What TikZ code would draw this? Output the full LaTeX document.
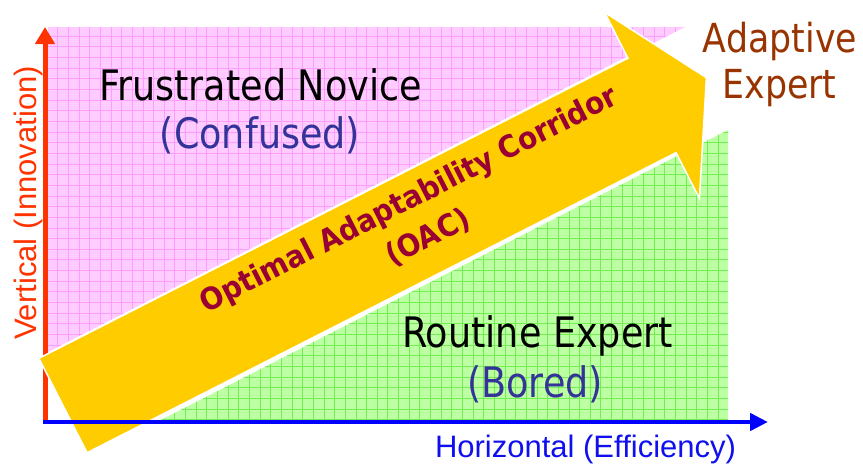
\documentclass[tikz,border=0pt]{standalone}
\usepackage{fontspec}
\newfontfamily\tahoma[FakeStretch=0.87]{DejaVu Sans}
\newfontfamily\tahomabold[FakeStretch=0.91]{DejaVu Sans Bold}
\newfontfamily\arialf{Liberation Sans}
\usetikzlibrary{arrows.meta}
\definecolor{pinkfill}{HTML}{FFCCFF}
\definecolor{pinkgrid}{HTML}{FF9CFF}
\definecolor{greenfill}{HTML}{BDFFA3}
\definecolor{greengrid}{HTML}{72EE52}
\definecolor{arrowyellow}{HTML}{FFCC00}
\definecolor{axisred}{HTML}{FF3300}
\definecolor{axisblue}{HTML}{0000FF}
\definecolor{labelblue}{HTML}{1010EE}
\definecolor{parenblue}{HTML}{333399}
\definecolor{brownish}{HTML}{993300}
\definecolor{oaccol}{HTML}{990033}
\tikzset{
  pgridline/.style={draw=pinkgrid, line width=0.7pt},
  ggridline/.style={draw=greengrid, line width=0.7pt},
  bigtext/.style={anchor=base, font=\tahoma\fontsize{42}{50}\selectfont},
  advtext/.style={anchor=base, font=\tahoma\fontsize{40}{46}\selectfont, text=brownish},
  axislabel/.style={anchor=base, font=\arialf\fontsize{31}{36}\selectfont},
}
\begin{document}
\begin{tikzpicture}[x=1pt,y=-1pt]
\useasboundingbox (0,0) rectangle (863,464);
% pink region
\coordinate (p1) at (48,27);
\coordinate (p2) at (685,27);
\coordinate (p3) at (48,352);
\fill[pinkfill] (p1) -- (p2) -- (p3) -- cycle;
\begin{scope}
  \clip (p1) -- (p2) -- (p3) -- cycle;
  \foreach \i in {0,...,62} \draw[pgridline] ({47+10.65*\i},20) -- ++(0,340);
  \foreach \j in {0,...,34} \draw[pgridline] (40,{25.5+10.65*\j}) -- ++(660,0);
\end{scope}
% green region
\coordinate (g1) at (157,422);
\coordinate (g2) at (728,130);
\coordinate (g3) at (728,422);
\fill[greenfill] (g1) -- (g2) -- (g3) -- cycle;
\begin{scope}
  \clip (g1) -- (g2) -- (g3) -- cycle;
  \foreach \i in {10,...,66} \draw[ggridline] ({47+10.65*\i},120) -- ++(0,310);
  \foreach \j in {9,...,38} \draw[ggridline] (150,{25.5+10.65*\j}) -- ++(590,0);
\end{scope}
% vertical axis
\coordinate (o) at (45,422);
\coordinate (vtop) at (45,27);
\draw[axisred, line width=5pt, -{Triangle[length=17pt,width=19pt]}] (o) -- (vtop);
% big arrow
\coordinate (A) at (38.9,358.3);
\coordinate (C) at (627.9,58.2);
\coordinate (E) at (604.6,12.3);
\coordinate (T) at (706.4,77.7);
\coordinate (F) at (699.4,198.5);
\coordinate (D) at (676.1,152.6);
\coordinate (B) at (87.1,452.7);
\filldraw[fill=arrowyellow, draw=white, line width=1.5pt, line join=miter]
  (A) -- (C) -- (E) -- (T) -- (F) -- (D) -- (B) -- cycle;
% horizontal axis
\coordinate (ho) at (43,422);
\coordinate (hend) at (768,422);
\draw[axisblue, line width=4.5pt, -{Triangle[length=18pt,width=17pt]}] (ho) -- (hend);
% texts
\node[bigtext] (fn) at (260.5,100) {Frustrated Novice};
\node[bigtext, text=parenblue] (conf) at (260,148) {(Confused)};
\node[bigtext] (re) at (537.5,347) {Routine Expert};
\node[bigtext, text=parenblue] (bored) at (535,397) {(Bored)};
\node[advtext] (adap) at (780,52) {Adaptive};
\node[advtext] (expt) at (779.5,98) {Expert};
\node[axislabel, text=labelblue] (hlab) at (585.5,457) {Horizontal (Efficiency)};
\node[axislabel, text=axisred, rotate=90] (vlab) at (36,203) {Vertical (Innovation)};
\node[rotate=27, align=center, text=oaccol,
      font=\tahomabold\fontsize{30.5}{42}\selectfont] (oac) at (418.5,218.5)
  {Optimal Adaptability Corridor\\(OAC)};
\end{tikzpicture}
\end{document}
